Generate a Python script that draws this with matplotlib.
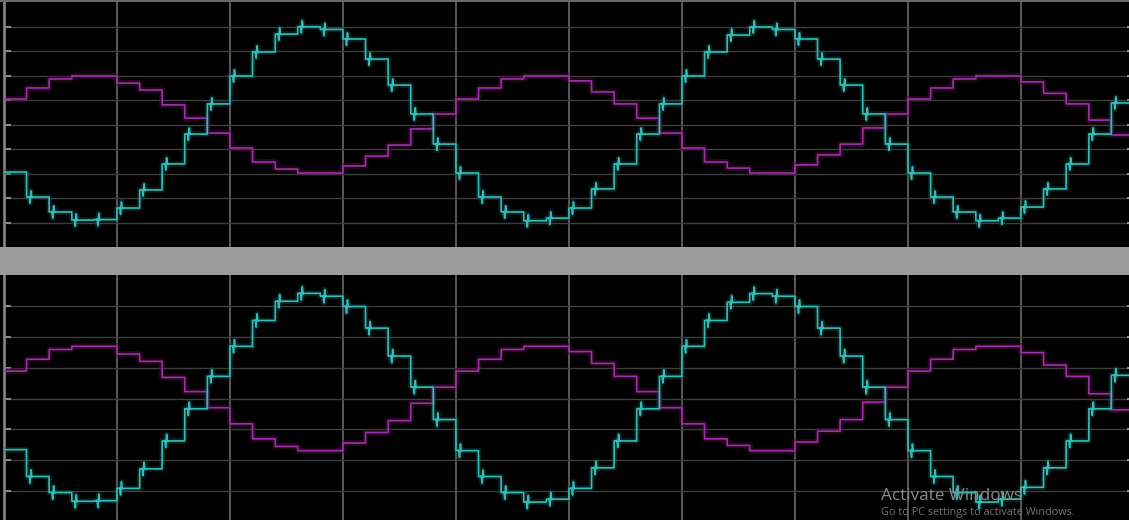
import numpy as np
import matplotlib
matplotlib.use("Agg")
import matplotlib.pyplot as plt
from matplotlib.patches import Rectangle

step_div = 0.2
cyan = [-1.94, -2.96, -3.57, -3.90, -3.88, -3.41, -2.67, -1.61, -0.39, 0.84,
        1.98, 2.96, 3.69, 3.99, 3.88, 3.49, 2.67, 1.61, 0.43, -0.80,
        -1.98, -2.96, -3.57, -3.93, -3.82, -3.41, -2.63, -1.61, -0.39, 0.84,
        1.98, 2.96, 3.65, 3.98, 3.88, 3.49, 2.67, 1.61, 0.43, -0.80,
        -1.98, -2.96, -3.57, -3.93, -3.82, -3.37, -2.63, -1.61, -0.39, 0.88]
magenta = [1.04, 1.49, 1.86, 1.98, 1.98, 1.69, 1.41, 0.80, 0.26, -0.35,
           -0.96, -1.53, -1.82, -1.98, -1.98, -1.69, -1.29, -0.84, -0.18, 0.43,
           1.04, 1.49, 1.86, 1.98, 1.98, 1.78, 1.33, 0.84, 0.26, -0.35,
           -0.96, -1.53, -1.78, -1.98, -1.98, -1.65, -1.24, -0.80, -0.14, 0.43,
           1.04, 1.49, 1.86, 1.98, 1.98, 1.74, 1.27, 0.84, 0.18, -0.43]

W, H = 1129, 520
fig = plt.figure(figsize=(W / 100, H / 100), dpi=100, facecolor="black")

CYAN = "#33bdb6"
MAG = "#9e30ae"
HGRID = "#3e3e3e"
VGRID = "#686868"


def staircase(levels, ring=0.0):
    n = len(levels)
    t = np.linspace(0, n * step_div, n * 200 + 1)
    idx = np.minimum((t / step_div).astype(int), n - 1)
    y = np.asarray(levels)[idx]
    if ring:
        dt = t - idx * step_div
        c = dt - 0.035
        spike = ring * np.sin(2 * np.pi * c / 0.022) * np.exp(-(c / 0.009) ** 2)
        spike[idx == 0] = 0
        y = y + spike
    return t, y


def panel(ax, ylim, nh):
    ax.set_facecolor("black")
    ax.set_xlim(0, 10)
    ax.set_ylim(-ylim, ylim)
    for x in range(1, 10):
        ax.axvline(x, color=VGRID, lw=1.2, zorder=1)
    yt = np.linspace(-ylim, ylim, nh + 1)
    for y in yt[1:-1]:
        ax.axhline(y, color=HGRID, lw=1.0, zorder=1)
    ax.set_yticks(yt[1:-1])
    ax.set_xticks([])
    ax.tick_params(axis="y", direction="in", length=5, width=1.2,
                   color="#a0a0a0", left=True, right=True,
                   labelleft=False, labelright=False)
    for s in ax.spines.values():
        s.set_visible(False)
    ax.spines["left"].set_visible(True)
    ax.spines["left"].set_color("#808080")
    ax.spines["left"].set_linewidth(2)

    tm, ym = staircase(magenta)
    ax.plot(tm, ym, color="#4a0c36", lw=4.5, alpha=0.45, zorder=2)
    ax.plot(tm, ym, color=MAG, lw=1.2, zorder=3)
    tc, yc = staircase(cyan, ring=0.34)
    ax.plot(tc, yc, color="#124f4d", lw=4, alpha=0.4, zorder=4)
    ax.plot(tc, yc, color=CYAN, lw=1.2, zorder=5)


left = 4 / W
width = 1130 / W
ax1 = fig.add_axes([left, (H - 247) / H, width, 245 / H])
panel(ax1, 5.0, 10)
ax2 = fig.add_axes([left, (H - 522) / H, width, 247 / H])
panel(ax2, 4.686, 8)

# grey separator bar
fig.patches.append(Rectangle((0, (H - 275) / H), 1, 28 / H, transform=fig.transFigure,
                             facecolor="#9b9b9b", edgecolor="none", zorder=10))
# top border
fig.patches.append(Rectangle((0, (H - 2) / H), 1, 2 / H, transform=fig.transFigure,
                             facecolor="#6a6a6a", edgecolor="none", zorder=10))

fig.text(881 / W, 1 - 496 / H, "Activate Windows", color="#8a8a8a",
         fontsize=12.3, family="Open Sans", va="center", ha="left", zorder=20)
fig.text(881 / W, 1 - 512 / H, "Go to PC settings to activate Windows.", color="#737373",
         fontsize=7.8, family="Open Sans", va="center", ha="left", zorder=20)

fig.savefig("out.png", dpi=100, facecolor="black")
